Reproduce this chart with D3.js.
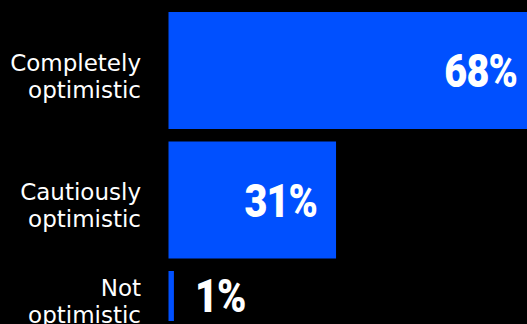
<!DOCTYPE html>
<html>
<head>
<meta charset="utf-8">
<script src="https://cdn.jsdelivr.net/npm/d3@7"></script>
<style>
  html, body { margin: 0; padding: 0; background: #000; }
  svg { display: block; }
</style>
</head>
<body>
<svg id="chart" width="527" height="324"></svg>
<script>
// Share of respondents by outlook
const categories = ["Completely optimistic", "Cautiously optimistic", "Not optimistic"];
const labelLines = [["Completely", "optimistic"], ["Cautiously", "optimistic"], ["Not", "optimistic"]];
const values = [68, 31, 1];

const W = 527, H = 324;
const barColor = "#0050ff";
const svg = d3.select("#chart");

const x = d3.scaleLinear().domain([0, 68]).range([168.5, 536]);
const y = d3.scaleBand().domain(categories).range([12, 388]).paddingInner(0.0965);
const plotBottom = 321;

svg.append("defs").append("clipPath").attr("id", "plot-clip")
  .append("rect").attr("x", 0).attr("y", 0).attr("width", W).attr("height", plotBottom);

const visibleMid = c => {
  const top = y(c), bottom = Math.min(y(c) + y.bandwidth(), plotBottom);
  return (top + bottom) / 2;
};

// bars
svg.append("g").attr("clip-path", "url(#plot-clip)")
  .selectAll("rect").data(categories).join("rect")
  .attr("x", x(0))
  .attr("y", c => y(c))
  .attr("width", (c, i) => x(values[i]) - x(0))
  .attr("height", y.bandwidth())
  .attr("fill", barColor);

// category labels, two lines, right aligned
const cat = svg.append("g")
  .attr("font-family", "'DejaVu Sans', 'Open Sans', sans-serif")
  .attr("font-size", 23)
  .attr("fill", "#fff")
  .attr("text-anchor", "end");
categories.forEach((c, i) => {
  const t = cat.append("text").attr("x", 141).attr("y", visibleMid(c));
  labelLines[i].forEach((line, j) => {
    t.append("tspan").attr("x", 141).attr("dy", j === 0 ? 0 : 27).text(line);
  });
});

// value labels in a narrowed heavy face
const squeeze = 0.86;
const valG = svg.append("g")
  .attr("font-family", "Roboto, 'Noto Sans', sans-serif")
  .attr("font-weight", 900)
  .attr("font-size", 46)
  .attr("fill", "#fff");
categories.forEach((c, i) => {
  const end = x(values[i]);
  const inside = end - x(0) > 100;
  valG.append("text")
    .attr("transform", `translate(${inside ? end - 19 : end + 21},${visibleMid(c) + 16.5}) scale(${squeeze},1)`)
    .attr("text-anchor", inside ? "end" : "start")
    .attr("letter-spacing", -1)
    .text(values[i] + "%");
});
</script>
</body>
</html>
